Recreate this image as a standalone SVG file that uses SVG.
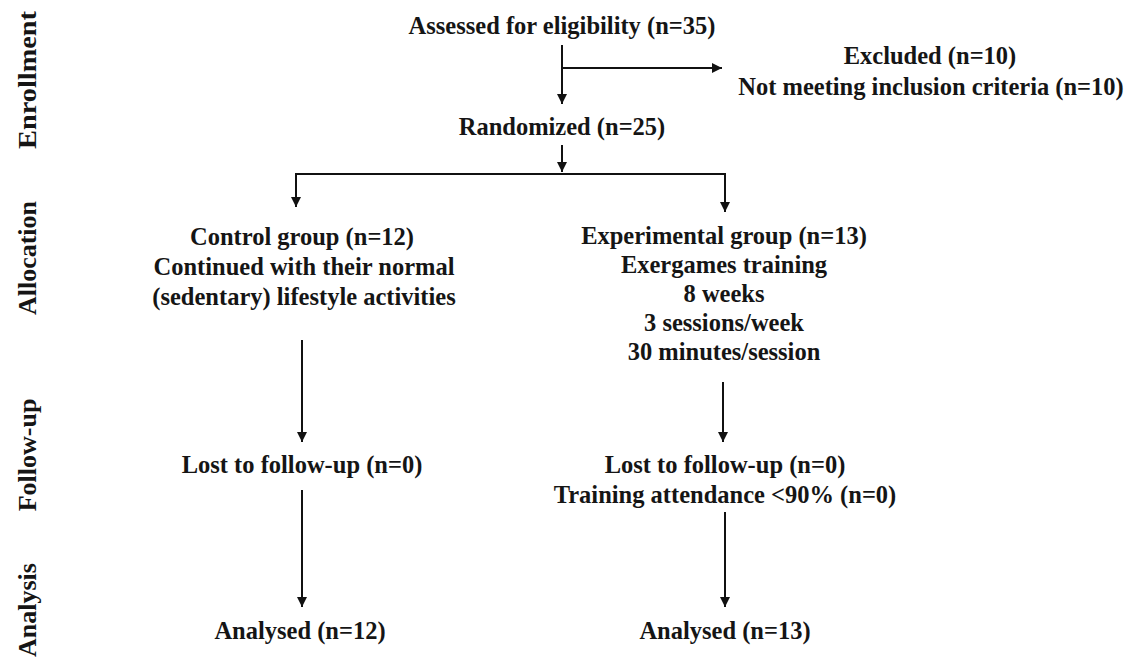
<svg xmlns="http://www.w3.org/2000/svg" width="1125" height="660" viewBox="0 0 1125 660">
<style>
text{font-family:"Liberation Serif","Times New Roman",serif;font-weight:bold;font-size:24.5px;fill:#151515;text-anchor:middle}
.side{font-size:26px}
.ln{stroke:#111;stroke-width:2;fill:none}
</style>
<defs>
<marker id="ah" viewBox="0 0 10 10" refX="10" refY="5" markerWidth="5" markerHeight="5" orient="auto" markerUnits="strokeWidth">
<path d="M0,0 L10,5 L0,10 z" fill="#111"/>
</marker>
</defs>
<rect width="1125" height="660" fill="#fff"/>
<g id="stages">
<text class="side" transform="translate(36,80) rotate(-90)" textLength="138" lengthAdjust="spacingAndGlyphs">Enrollment</text>
<text class="side" transform="translate(36,258) rotate(-90)">Allocation</text>
<text class="side" transform="translate(36,455) rotate(-90)">Follow-up</text>
<text class="side" transform="translate(36,610) rotate(-90)">Analysis</text>
</g>
<g id="connectors">
<line class="ln" x1="562" y1="45" x2="562" y2="104" marker-end="url(#ah)"/>
<line class="ln" x1="562" y1="68" x2="722" y2="68" marker-end="url(#ah)"/>
<line class="ln" x1="562" y1="145" x2="562" y2="172" marker-end="url(#ah)"/>
<polyline class="ln" points="296,206 296,174 725,174 725,212"/>
<line class="ln" x1="296" y1="190" x2="296" y2="207" marker-end="url(#ah)"/>
<line class="ln" x1="725" y1="195" x2="725" y2="212" marker-end="url(#ah)"/>
<line class="ln" x1="302" y1="340" x2="302" y2="442" marker-end="url(#ah)"/>
<line class="ln" x1="723" y1="382" x2="723" y2="442" marker-end="url(#ah)"/>
<line class="ln" x1="302" y1="490" x2="302" y2="607" marker-end="url(#ah)"/>
<line class="ln" x1="725" y1="512" x2="725" y2="607" marker-end="url(#ah)"/>
</g>
<g id="assessed"><text x="562" y="34">Assessed for eligibility (n=35)</text></g>
<g id="excluded">
<text x="930" y="64">Excluded (n=10)</text>
<text x="931" y="95">Not meeting inclusion criteria (n=10)</text>
</g>
<g id="randomized"><text x="562" y="135">Randomized (n=25)</text></g>
<g id="control">
<text x="302" y="245">Control group (n=12)</text>
<text x="304" y="275">Continued with their normal</text>
<text x="304" y="305">(sedentary) lifestyle activities</text>
</g>
<g id="experimental">
<text x="724" y="244">Experimental group (n=13)</text>
<text x="724" y="273">Exergames training</text>
<text x="724" y="302">8 weeks</text>
<text x="724" y="331">3 sessions/week</text>
<text x="724" y="360">30 minutes/session</text>
</g>
<g id="lost-control"><text x="302" y="473">Lost to follow-up (n=0)</text></g>
<g id="lost-exp">
<text x="725" y="473">Lost to follow-up (n=0)</text>
<text x="725" y="503">Training attendance &lt;90% (n=0)</text>
</g>
<g id="analysed-control"><text x="300" y="639">Analysed (n=12)</text></g>
<g id="analysed-exp"><text x="725" y="639">Analysed (n=13)</text></g>
</svg>
